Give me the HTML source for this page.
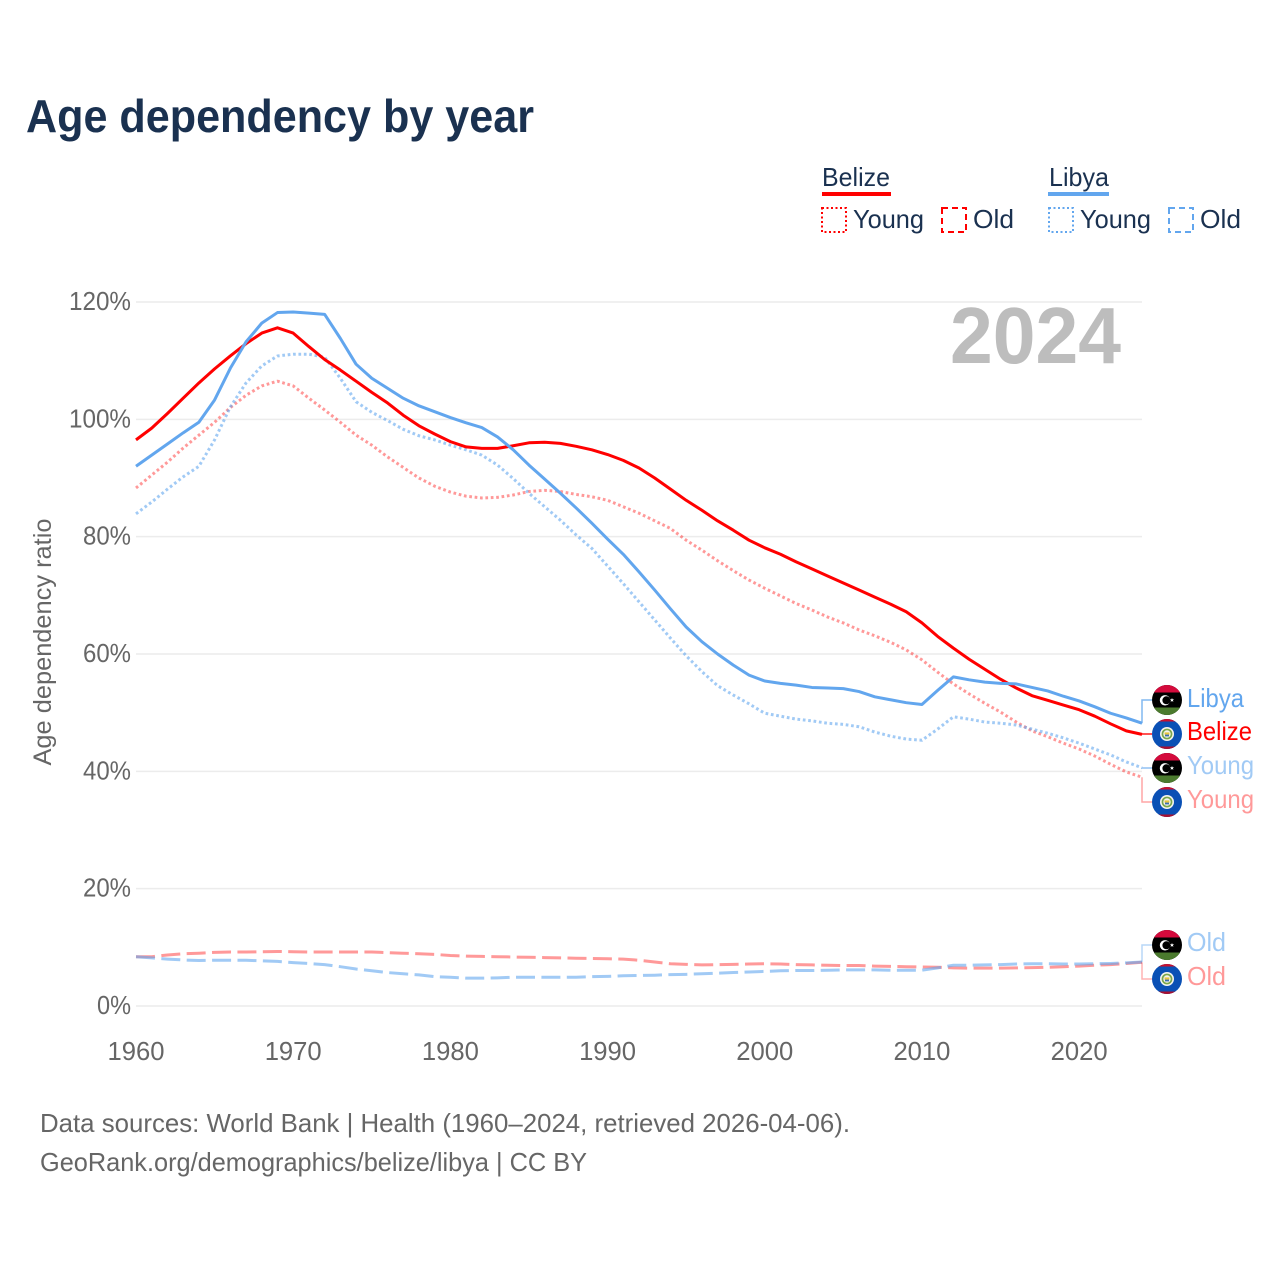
<!DOCTYPE html>
<html lang="en">
<head>
<meta charset="utf-8">
<title>Age dependency by year</title>
<style>
html,body{margin:0;padding:0;background:#fff;}
svg{display:block;font-family:"Liberation Sans",sans-serif;}
</style>
</head>
<body>
<svg id="chart" xmlns="http://www.w3.org/2000/svg" width="1280" height="1280" viewBox="0 0 1280 1280">
<defs>
<clipPath id="flag-clip"><circle cx="0" cy="0" r="15"/></clipPath>
<g id="flag-libya" clip-path="url(#flag-clip)">
<rect x="-15" y="-15" width="30" height="30" fill="#000"/>
<rect x="-15" y="-15" width="30" height="7.5" fill="#d40a3c"/>
<rect x="-15" y="7.5" width="30" height="7.5" fill="#4b7a2e"/>
<circle cx="-2" cy="0.3" r="5.2" fill="#fff"/>
<circle cx="-0.6" cy="0.3" r="4" fill="#000"/>
<polygon points="5,-2 5.6,-0.6 7.1,-0.6 5.9,0.4 6.4,1.9 5,1 3.6,1.9 4.1,0.4 2.9,-0.6 4.4,-0.6" fill="#fff"/>
</g>
<g id="flag-belize" clip-path="url(#flag-clip)">
<rect x="-15" y="-15" width="30" height="30" fill="#0a50b5"/>
<rect x="-15" y="-15" width="30" height="2.5" fill="#c8102e"/>
<rect x="-15" y="12.5" width="30" height="2.5" fill="#a80f30"/>
<circle cx="0" cy="0" r="7" fill="#f4f4ee"/>
<circle cx="0" cy="0" r="5.4" fill="#7aa64a"/>
<circle cx="0" cy="0" r="3.7" fill="#f4f4ee"/>
<rect x="-2.4" y="-1.6" width="4.8" height="2.2" fill="#e8c53a"/>
<rect x="-2" y="0.6" width="4" height="1.8" fill="#3a6fb0"/>
</g>
</defs>

<rect x="0" y="0" width="1280" height="1280" fill="#ffffff"/>

<text x="26" y="132" font-size="46" font-weight="700" fill="#1a3150" textLength="508" lengthAdjust="spacingAndGlyphs">Age dependency by year</text>

<g font-size="26" fill="#1a3150">
<text x="822" y="186" textLength="68" lengthAdjust="spacingAndGlyphs">Belize</text>
<rect x="822" y="192" width="69" height="4" fill="#ff0000"/>
<rect x="822" y="208" width="24" height="24" fill="none" stroke="#ff0000" stroke-width="2" stroke-dasharray="2 2.5"/>
<text x="853" y="228" textLength="71" lengthAdjust="spacingAndGlyphs">Young</text>
<rect x="942" y="208" width="24" height="24" fill="none" stroke="#ff0000" stroke-width="2" stroke-dasharray="6 4"/>
<text x="973" y="228" textLength="41" lengthAdjust="spacingAndGlyphs">Old</text>
<text x="1049" y="186" textLength="60" lengthAdjust="spacingAndGlyphs">Libya</text>
<rect x="1048" y="192" width="61" height="4" fill="#62a6ee"/>
<rect x="1049" y="208" width="24" height="24" fill="none" stroke="#62a6ee" stroke-width="2" stroke-dasharray="2 2.5"/>
<text x="1080" y="228" textLength="71" lengthAdjust="spacingAndGlyphs">Young</text>
<rect x="1169" y="208" width="24" height="24" fill="none" stroke="#62a6ee" stroke-width="2" stroke-dasharray="6 4"/>
<text x="1200" y="228" textLength="41" lengthAdjust="spacingAndGlyphs">Old</text>
</g>

<g id="grid"></g>
<g id="y-ticks"></g>
<g id="x-ticks"></g>

<text x="950" y="363" font-size="80" font-weight="700" fill="#bdbdbd" textLength="171" lengthAdjust="spacingAndGlyphs">2024</text>

<text transform="translate(51,642) rotate(-90)" text-anchor="middle" font-size="25" fill="#666666" textLength="247" lengthAdjust="spacingAndGlyphs">Age dependency ratio</text>

<g id="series"></g>
<g id="connectors"></g>

<use href="#flag-libya" x="1167" y="700"/>
<use href="#flag-belize" x="1167" y="734"/>
<use href="#flag-libya" x="1167" y="768"/>
<use href="#flag-belize" x="1167" y="802"/>
<use href="#flag-libya" x="1167" y="945"/>
<use href="#flag-belize" x="1167" y="979"/>

<g font-size="26">
<text x="1187" y="707" fill="#62a6ee" textLength="57" lengthAdjust="spacingAndGlyphs">Libya</text>
<text x="1187" y="740" fill="#ff0000" textLength="65" lengthAdjust="spacingAndGlyphs">Belize</text>
<text x="1187" y="774" fill="#62a6ee" fill-opacity="0.6" textLength="67" lengthAdjust="spacingAndGlyphs">Young</text>
<text x="1187" y="808" fill="#ff0000" fill-opacity="0.4" textLength="67" lengthAdjust="spacingAndGlyphs">Young</text>
<text x="1187" y="951" fill="#62a6ee" fill-opacity="0.6" textLength="39" lengthAdjust="spacingAndGlyphs">Old</text>
<text x="1187" y="985" fill="#ff0000" fill-opacity="0.4" textLength="39" lengthAdjust="spacingAndGlyphs">Old</text>
</g>

<g font-size="26" fill="#666666">
<text x="40" y="1132" textLength="810" lengthAdjust="spacingAndGlyphs">Data sources: World Bank | Health (1960–2024, retrieved 2026-04-06).</text>
<text x="40" y="1171" textLength="547" lengthAdjust="spacingAndGlyphs">GeoRank.org/demographics/belize/libya | CC BY</text>
</g>
</svg>

<script>
const startYear = 1960;
const endYear = 2024;
const yTickValues = [0, 20, 40, 60, 80, 100, 120];
const yTickLabels = ["0%", "20%", "40%", "60%", "80%", "100%", "120%"];
const xTickValues = [1960, 1970, 1980, 1990, 2000, 2010, 2020];
const xTickLabels = ["1960", "1970", "1980", "1990", "2000", "2010", "2020"];

const belizeTotal = [96.5,98.5,101,103.6,106.2,108.6,110.8,112.9,114.7,115.6,114.7,112.4,110.2,108.4,106.5,104.6,102.8,100.7,98.9,97.5,96.2,95.3,95.05,95.05,95.5,96,96.1,95.9,95.4,94.8,94,93,91.7,90,88.1,86.2,84.5,82.7,81.1,79.4,78.1,77,75.7,74.5,73.3,72.1,70.9,69.7,68.5,67.2,65.3,63,61,59.1,57.4,55.7,54.2,52.9,52.1,51.3,50.5,49.4,48.1,46.9,46.3];
const belizeYoung = [88.3,90.5,92.7,95.1,97.3,99.5,102,104.1,105.7,106.5,105.7,103.6,101.6,99.5,97.3,95.6,93.6,91.8,90,88.6,87.6,86.9,86.6,86.7,87.1,87.7,87.9,87.7,87.2,86.8,86.2,85.1,84,82.7,81.4,79.4,77.7,75.9,74.2,72.6,71.2,69.9,68.6,67.5,66.3,65.3,64.1,63.1,62,60.7,59,56.9,54.9,53.2,51.6,50.1,48.4,46.9,45.9,44.8,43.8,42.6,41.2,39.9,39];
const belizeOld = [8.4,8.4,8.7,8.9,9.0,9.15,9.2,9.2,9.25,9.3,9.25,9.2,9.2,9.2,9.2,9.2,9.1,9.0,8.9,8.8,8.6,8.5,8.45,8.4,8.35,8.3,8.25,8.2,8.15,8.1,8.05,8.0,7.8,7.5,7.2,7.1,7.0,7.05,7.1,7.15,7.2,7.15,7.05,7.0,6.95,6.9,6.9,6.8,6.75,6.7,6.65,6.6,6.5,6.45,6.45,6.45,6.5,6.55,6.6,6.7,6.8,6.95,7.05,7.25,7.45];
const libyaTotal = [92,93.9,95.8,97.7,99.5,103.3,108.7,113.2,116.4,118.2,118.3,118.1,117.9,113.8,109.4,107,105.3,103.6,102.3,101.3,100.3,99.4,98.6,97,94.8,92.2,89.8,87.4,84.9,82.3,79.6,77,74,70.9,67.7,64.6,62.1,60,58.1,56.4,55.4,55,54.7,54.3,54.2,54.1,53.6,52.7,52.2,51.7,51.4,53.8,56.1,55.6,55.2,55,54.9,54.3,53.7,52.8,52,51,49.9,49.1,48.2];
const libyaYoung = [83.9,85.9,88.1,90.2,92,96.5,102.1,106.2,109.1,110.8,111.1,111.1,110.6,107,103,101.2,99.8,98.3,97.2,96.5,95.6,94.8,93.9,92.2,89.9,87.4,85.1,82.8,80.3,78,75,72,68.9,65.8,62.7,59.7,57,54.6,53,51.5,49.9,49.4,48.9,48.6,48.2,48,47.6,46.7,46,45.5,45.3,47.2,49.3,48.9,48.4,48.2,47.9,47.2,46.5,45.7,44.8,43.8,42.8,41.6,40.6];
const libyaOld = [8.4,8.2,8.0,7.85,7.75,7.8,7.8,7.8,7.7,7.6,7.4,7.25,7.05,6.7,6.3,6.0,5.7,5.5,5.3,5.0,4.9,4.75,4.75,4.8,4.9,4.9,4.9,4.9,4.9,5,5.05,5.15,5.2,5.25,5.35,5.4,5.5,5.6,5.7,5.8,5.9,6,6.05,6.05,6.1,6.15,6.15,6.15,6.1,6.1,6.1,6.5,6.95,6.95,7,7.05,7.15,7.2,7.2,7.15,7.15,7.2,7.25,7.35,7.5];

const SVG_NS = "http://www.w3.org/2000/svg";
const plotLeft = 136, plotRight = 1142, plotBottom = 1006, plotTop = 302;
const RED = "#ff0000", BLUE = "#62a6ee";

function xScale(year) {
  return plotLeft + (year - startYear) * (plotRight - plotLeft) / (endYear - startYear);
}
function yScale(value) {
  return plotBottom - value * (plotBottom - plotTop) / 120;
}
function make(tag, attrs) {
  const el = document.createElementNS(SVG_NS, tag);
  for (const k in attrs) el.setAttribute(k, attrs[k]);
  return el;
}

const gridGroup = document.getElementById("grid");
const yTickGroup = document.getElementById("y-ticks");
const xTickGroup = document.getElementById("x-ticks");

yTickValues.forEach(function (v, i) {
  const line = make("line", {x1: plotLeft, x2: plotRight, y1: yScale(v), y2: yScale(v), stroke: "#ececec", "stroke-width": 1.5});
  
  
  gridGroup.appendChild(line);
  const label = yTickLabels[i];
  const t = make("text", {x: 131, y: yScale(v) + 8, "text-anchor": "end", "font-size": 25.5, fill: "#666666", textLength: 14 * (label.length - 1) + 20, lengthAdjust: "spacingAndGlyphs"});
  
  
  t.textContent = label;
  yTickGroup.appendChild(t);
});

xTickValues.forEach(function (v, i) {
  const t = make("text", {x: xScale(v), y: 1060, "text-anchor": "middle", "font-size": 25.5, fill: "#666666", textLength: 57, lengthAdjust: "spacingAndGlyphs"});
  
  
  t.textContent = xTickLabels[i];
  xTickGroup.appendChild(t);
});

const seriesGroup = document.getElementById("series");
function drawLine(values, color, opacity, dash, name) {
  const pts = values.map(function (v, i) {
    return xScale(startYear + i).toFixed(2) + "," + yScale(v).toFixed(2);
  }).join(" ");
  const p = make("polyline", {points: pts, fill: "none", stroke: color, "stroke-opacity": opacity, "stroke-width": 3, "stroke-linejoin": "round"});
  if (dash) p.setAttribute("stroke-dasharray", dash);
  
  
  seriesGroup.appendChild(p);
}
drawLine(belizeOld, RED, 0.4, "19 6.4", "line-belize-old");
drawLine(libyaOld, BLUE, 0.6, "19 6.4", "line-libya-old");
drawLine(belizeYoung, RED, 0.4, "2.7 2.7", "line-belize-young");
drawLine(libyaYoung, BLUE, 0.6, "2.7 2.7", "line-libya-young");
drawLine(belizeTotal, RED, 1, null, "line-belize-total");
drawLine(libyaTotal, BLUE, 1, null, "line-libya-total");

const connectorGroup = document.getElementById("connectors");
function drawConnector(values, labelY, color, opacity, name) {
  const y0 = yScale(values[values.length - 1]);
  const p = make("polyline", {points: plotRight + "," + y0 + " " + plotRight + "," + labelY + " 1152," + labelY, fill: "none", stroke: color, "stroke-opacity": opacity, "stroke-width": 1.5});
  
  
  connectorGroup.appendChild(p);
}
drawConnector(libyaTotal, 700, BLUE, 0.8, "connector-libya-total");
drawConnector(belizeTotal, 734, RED, 0.9, "connector-belize-total");
drawConnector(libyaYoung, 768, BLUE, 0.7, "connector-libya-young");
drawConnector(belizeYoung, 802, RED, 0.35, "connector-belize-young");
drawConnector(libyaOld, 945, BLUE, 0.45, "connector-libya-old");
drawConnector(belizeOld, 979, RED, 0.3, "connector-belize-old");
</script>
</body>
</html>
